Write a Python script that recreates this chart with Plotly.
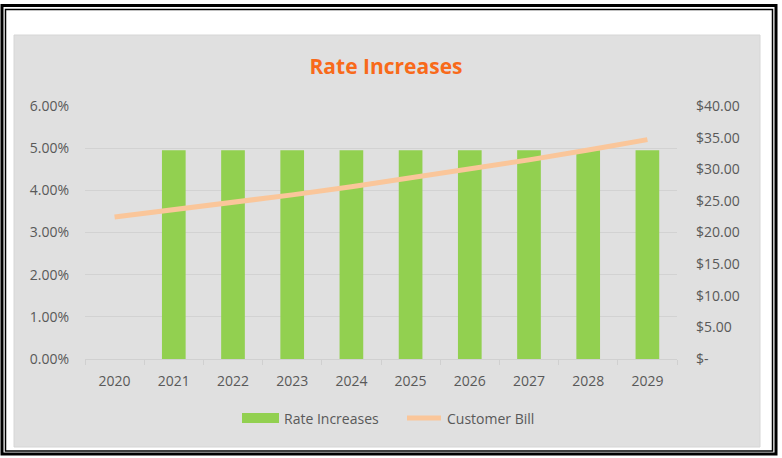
import plotly.graph_objects as go

years = ["2020", "2021", "2022", "2023", "2024", "2025", "2026", "2027", "2028", "2029"]
rate_increases = [0.0, 0.0495, 0.0495, 0.0495, 0.0495, 0.0495, 0.0495, 0.0495, 0.0495, 0.0495]
customer_bill = [22.45, 23.56, 24.73, 25.95, 27.23, 28.58, 30.00, 31.48, 33.04, 34.68]
left_ticks = [0, 0.01, 0.02, 0.03, 0.04, 0.05, 0.06]
right_ticks = [0, 5, 10, 15, 20, 25, 30, 35, 40]
right_ticktext = ["$-", "$5.00", "$10.00", "$15.00", "$20.00", "$25.00", "$30.00", "$35.00", "$40.00"]
series_names = ["Rate Increases", "Customer Bill"]
bar_color = "#92d050"
line_color = "#fac69a"

W, H = 782, 458
L, R, T, B = 85, 105, 106, 99
pw, ph = W - L - R, H - T - B


def px(x):
    return (x - L) / pw


def py(y):
    return (H - B - y) / ph


FONT = "Open Sans"
TXT = "#595959"

fig = go.Figure()
fig.add_trace(go.Bar(
    x=years, y=rate_increases, name=series_names[0],
    marker=dict(color=bar_color, line=dict(width=0)), width=0.4,
))
fig.add_trace(go.Scatter(
    x=years, y=customer_bill, name=series_names[1], yaxis="y2", mode="lines",
    line=dict(color=line_color, width=5),
))

shapes = [
    # outer frame
    dict(type="rect", xref="paper", yref="paper", x0=px(2), x1=px(776), y0=py(5.5), y1=py(454),
         line=dict(color="black", width=3), layer="below"),
    dict(type="rect", xref="paper", yref="paper", x0=px(5.5), x1=px(772.5), y0=py(9.5), y1=py(451),
         line=dict(color="black", width=1.5), layer="below"),
    # gray chart area
    dict(type="rect", xref="paper", yref="paper", x0=px(14), x1=px(760), y0=py(35), y1=py(447),
         fillcolor="#e0e0e0", line=dict(color="#d6d6d6", width=1), layer="below"),
    # legend keys
    dict(type="rect", xref="paper", yref="paper", x0=px(242), x1=px(279), y0=py(413), y1=py(423),
         fillcolor=bar_color, line=dict(width=0)),
    dict(type="line", xref="paper", yref="paper", x0=px(407), x1=px(441), y0=py(418), y1=py(418),
         line=dict(color=line_color, width=5)),
]

annotations = [
    dict(text=series_names[0], xref="paper", yref="paper", x=px(282), y=py(418),
         xanchor="left", yanchor="middle", showarrow=False,
         font=dict(family=FONT, size=14, color=TXT)),
    dict(text=series_names[1], xref="paper", yref="paper", x=px(445), y=py(418),
         xanchor="left", yanchor="middle", showarrow=False,
         font=dict(family=FONT, size=14, color=TXT)),
]

fig.update_layout(
    width=W, height=H, autosize=False,
    margin=dict(l=L, r=R, t=T, b=B, pad=0),
    paper_bgcolor="white", plot_bgcolor="rgba(0,0,0,0)",
    font=dict(family=FONT, size=14, color=TXT),
    title=dict(text="<b>Rate Increases</b>", xref="container", x=386 / W, xanchor="center",
               y=1 - 67 / H, yanchor="middle",
               font=dict(family=FONT, size=21, color="#f86a1a")),
    shapes=shapes,
    annotations=annotations,
    showlegend=False,
    bargap=0.6,
    xaxis=dict(type="category", range=[-0.5, 9.5], showgrid=False,
               showline=True, linecolor="#d0d0d0", linewidth=1,
               ticks="outside", tickson="boundaries", ticklen=5, tickcolor="#d0d0d0",
               ticklabelstandoff=9, tickfont=dict(family=FONT, size=14, color=TXT),
               zeroline=False),
    yaxis=dict(range=[0, 0.06], tickvals=left_ticks, tickformat=".2%",
               showgrid=True, gridcolor="#d2d2d2", gridwidth=1, zeroline=False,
               showline=False, ticks="", ticklabelstandoff=15,
               tickfont=dict(family=FONT, size=14, color=TXT)),
    yaxis2=dict(range=[0, 40], tickvals=right_ticks, ticktext=right_ticktext,
                overlaying="y", side="right", showgrid=False, zeroline=False,
                showline=False, ticks="", ticklabelstandoff=18,
                tickfont=dict(family=FONT, size=14, color=TXT)),
)

fig.write_html("out.html")
